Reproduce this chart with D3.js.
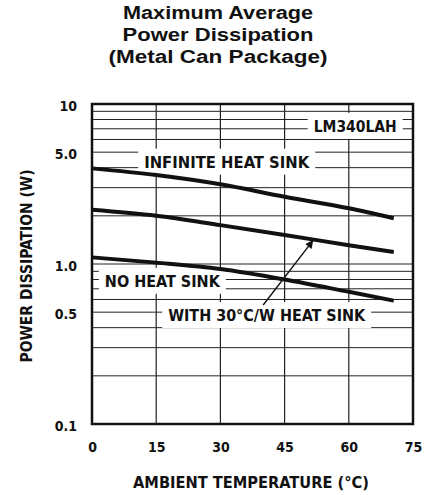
<!DOCTYPE html>
<html>
<head>
<meta charset="utf-8">
<script src="https://cdn.jsdelivr.net/npm/d3@7"></script>
<style>
  body { margin: 0; background: #fff; }
  svg { display: block; }
  .cond { font-family: 'DejaVu Sans Condensed', 'Liberation Sans Narrow', sans-serif; font-weight: bold; font-stretch: condensed; }
  .title { font-family: 'Liberation Sans', Arial, sans-serif; font-weight: bold; }
</style>
</head>
<body>
<script>
// ambient temperature (°C) where the curves were read
const temps = [0, 15, 30, 45, 60, 70.5]
// power dissipation (W)
const infiniteSink = [3.96, 3.6, 3.15, 2.63, 2.23, 1.93]
const sink30 = [2.18, 2.0, 1.75, 1.52, 1.31, 1.19]
const noSink = [1.1, 1.02, 0.93, 0.8, 0.67, 0.59]

const xTicks = [0, 15, 30, 45, 60, 75]
const yTicks = [0.1, 0.5, 1, 5, 10]
const yTickLabels = ['0.1', '0.5', '1.0', '5.0', '10']
const yGrid = [0.2, 0.3, 0.4, 0.5, 0.6, 0.7, 0.8, 0.9, 1, 2, 3, 4, 5, 6, 7, 8, 9]

const titleLines = ['Maximum Average', 'Power Dissipation', '(Metal Can Package)']

// in-plot labels: text, anchor temperature, anchor value (baseline)
const labels = [
  { text: 'LM340LAH', t: 51.8, v: 6.7, len: 83 },
  { text: 'INFINITE HEAT SINK', t: 12.2, v: 4.0, len: 165 },
  { text: 'NO HEAT SINK', t: 3, v: 0.72, len: 115 },
  { text: 'WITH 30°C/W HEAT SINK', t: 17.8, v: 0.44, len: 197 }
]
const arrowFrom = { t: 40.0, v: 0.554 }
const arrowTo = { t: 51.7, v: 1.41 }

const margins = { top: 104, right: 16, bottom: 71, left: 92 }
const width = 429 - margins.left - margins.right
const height = 495 - margins.top - margins.bottom

const x = d3.scaleLinear().domain([0, 75]).range([0, width])
const y = d3.scaleLog().domain([0.1, 10]).range([height, 0])

const root = d3.select('body').append('svg')
  .attr('width', 429)
  .attr('height', 495)

root.append('g')
  .attr('class', 'title')
  .selectAll('text')
  .data(titleLines)
  .enter().append('text')
    .attr('x', 218)
    .attr('y', (d, i) => 18.5 + i * 22)
    .attr('text-anchor', 'middle')
    .attr('font-size', 18)
    .attr('textLength', (d, i) => [190, 191, 219][i])
    .attr('lengthAdjust', 'spacingAndGlyphs')
    .attr('fill', '#111')
    .text((d) => d)

const svg = root.append('g')
  .attr('transform', 'translate(' + [margins.left, margins.top] + ')')

// grid
svg.append('g')
  .selectAll('line')
  .data(yGrid)
  .enter().append('line')
    .attr('x1', 0)
    .attr('x2', width)
    .attr('y1', (d) => y(d))
    .attr('y2', (d) => y(d))
    .attr('stroke', '#222')
    .attr('stroke-width', 1)

svg.append('g')
  .selectAll('line')
  .data([15, 30, 45, 60])
  .enter().append('line')
    .attr('x1', (d) => x(d))
    .attr('x2', (d) => x(d))
    .attr('y1', 0)
    .attr('y2', height)
    .attr('stroke', '#222')
    .attr('stroke-width', 1.2)

// white boxes behind labels break the grid
let labelG = svg.append('g').attr('class', 'cond')

labelG.selectAll('rect')
  .data(labels)
  .enter().append('rect')
    .attr('x', (d) => x(d.t) - 6)
    .attr('y', (d) => y(d.v) - 19)
    .attr('width', (d) => d.len + 12)
    .attr('height', 26)
    .attr('fill', '#fff')

labelG.selectAll('text')
  .data(labels)
  .enter().append('text')
    .attr('x', (d) => x(d.t))
    .attr('y', (d) => y(d.v))
    .attr('font-size', 15.5)
    .attr('textLength', (d) => d.len)
    .attr('lengthAdjust', 'spacingAndGlyphs')
    .attr('fill', '#111')
    .text((d) => d.text)

// frame
svg.append('rect')
  .attr('width', width)
  .attr('height', height)
  .attr('fill', 'none')
  .attr('stroke', '#111')
  .attr('stroke-width', 2.5)

// curves
let line = d3.line()
  .x((d) => x(d[0]))
  .y((d) => y(d[1]))
  .curve(d3.curveMonotoneX)

svg.selectAll('.curve')
  .data([infiniteSink, sink30, noSink])
  .enter().append('path')
    .attr('class', 'curve')
    .attr('fill', 'none')
    .attr('stroke', '#111')
    .attr('stroke-width', 4)
    .attr('d', (s) => line(d3.zip(temps, s)))

// arrow
root.append('defs').append('marker')
    .attr('id', 'head')
    .attr('viewBox', '0 0 10 10')
    .attr('refX', 10)
    .attr('refY', 5)
    .attr('markerWidth', 10)
    .attr('markerHeight', 8)
    .attr('markerUnits', 'userSpaceOnUse')
    .attr('orient', 'auto')
  .append('path')
    .attr('d', 'M0,0L10,5L0,10Z')
    .attr('fill', '#111')

svg.append('line')
  .attr('x1', x(arrowFrom.t))
  .attr('y1', y(arrowFrom.v))
  .attr('x2', x(arrowTo.t))
  .attr('y2', y(arrowTo.v))
  .attr('stroke', '#111')
  .attr('stroke-width', 1.4)
  .attr('marker-end', 'url(#head)')

// axes
let yAxis = svg.append('g')
  .attr('class', 'cond')
  .call(d3.axisLeft(y)
    .tickValues(yTicks)
    .tickFormat((d, i) => yTickLabels[i])
    .tickSize(0)
    .tickPadding(15))
yAxis.select('.domain').remove()
yAxis.selectAll('text')
  .attr('font-size', 14)
  .attr('fill', '#111')
  .attr('dy', '0.45em')

let xAxis = svg.append('g')
  .attr('class', 'cond')
  .attr('transform', 'translate(' + [0, height] + ')')
  .call(d3.axisBottom(x)
    .tickValues(xTicks)
    .tickSize(0)
    .tickPadding(18))
xAxis.select('.domain').remove()
xAxis.selectAll('text')
  .attr('font-size', 14)
  .attr('fill', '#111')

root.append('text')
  .attr('class', 'cond')
  .attr('x', 251)
  .attr('y', 488)
  .attr('text-anchor', 'middle')
  .attr('font-size', 16)
  .attr('textLength', 236)
  .attr('lengthAdjust', 'spacingAndGlyphs')
  .attr('fill', '#111')
  .text('AMBIENT TEMPERATURE (°C)')

root.append('text')
  .attr('class', 'cond')
  .attr('transform', 'translate(32,266) rotate(-90)')
  .attr('text-anchor', 'middle')
  .attr('font-size', 15)
  .attr('textLength', 193)
  .attr('lengthAdjust', 'spacingAndGlyphs')
  .attr('fill', '#111')
  .text('POWER DISSIPATION (W)')
</script>
</body>
</html>
